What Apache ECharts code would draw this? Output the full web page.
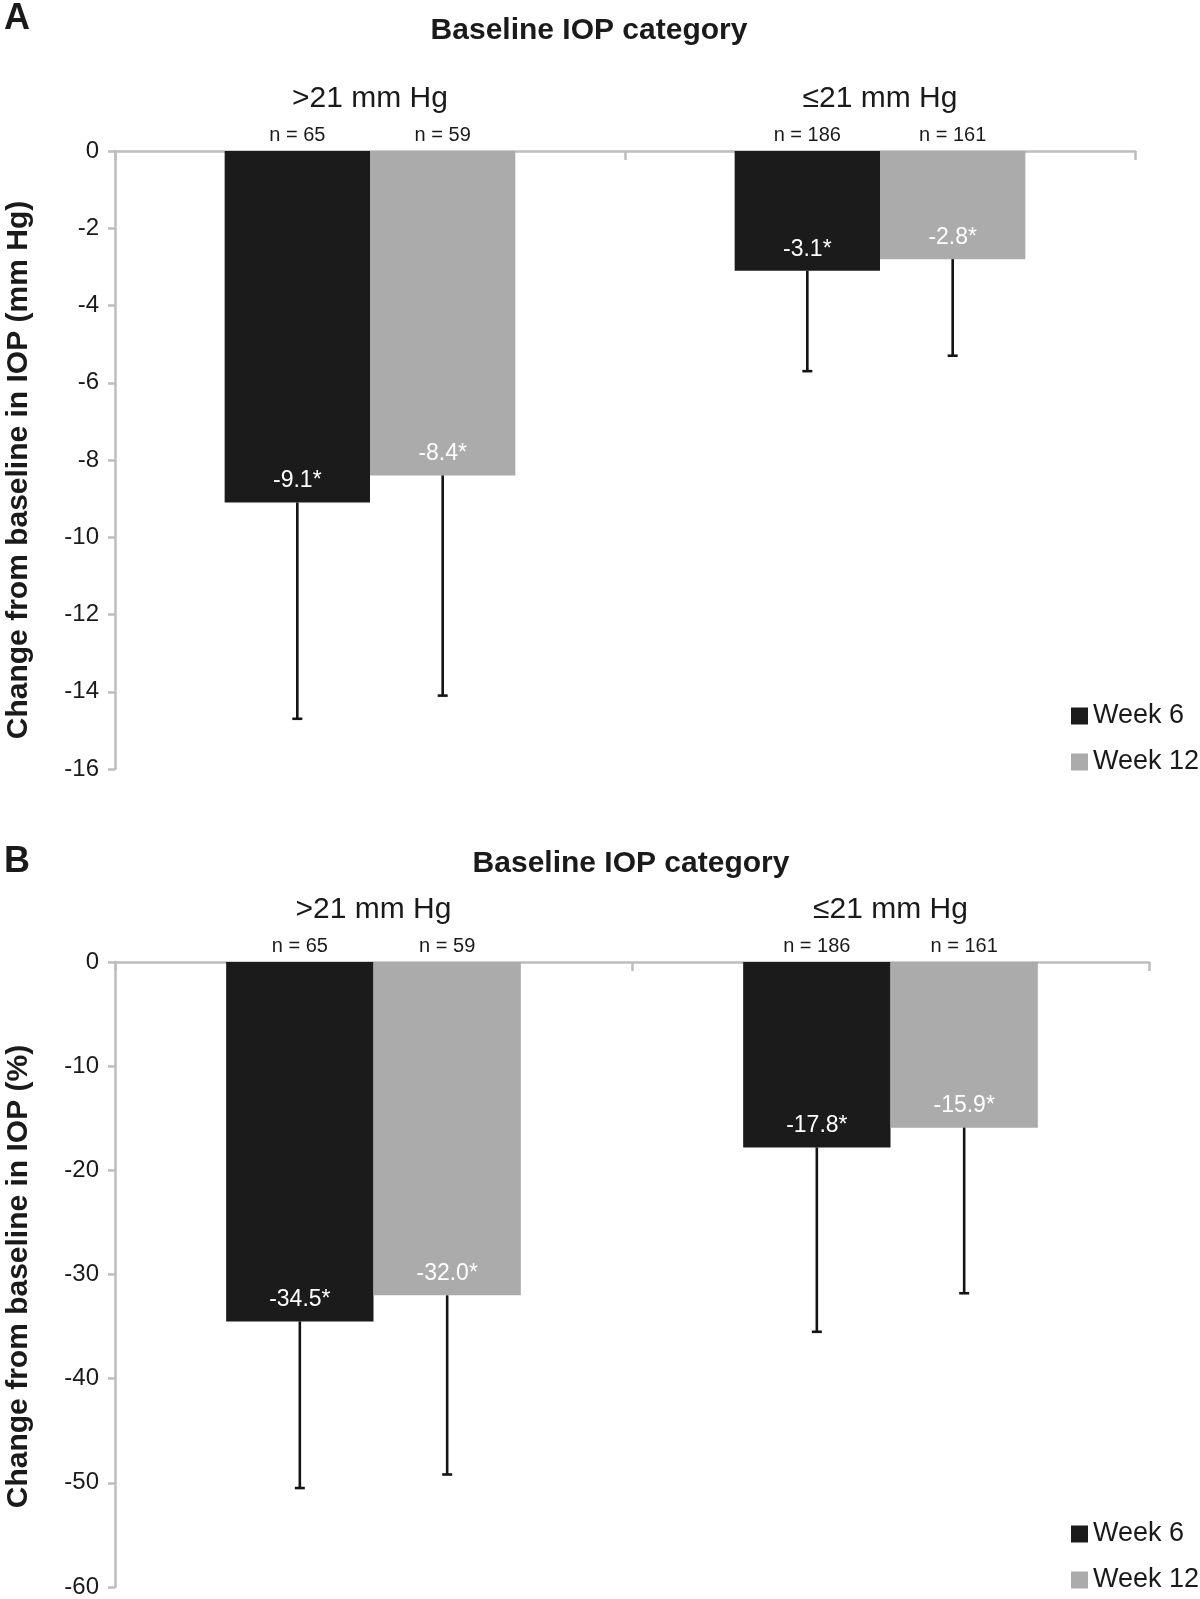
<!DOCTYPE html>
<html><head><meta charset="utf-8">
<script src="https://cdn.jsdelivr.net/npm/echarts@6/dist/echarts.min.js"></script>
<style>html,body{margin:0;padding:0;background:#fff}#c{width:1200px;height:1599px}</style>
</head><body><div id="c"></div>
<script>
// ---- data ----
const categories = ['>21 mm Hg', '≤21 mm Hg'];
const seriesNames = ['Week 6', 'Week 12'];
const nWeek6 = [65, 186];
const nWeek12 = [59, 161];
// Panel A: change in mm Hg (mean and lower end of error bar)
const mmHgWeek6 = [-9.1, -3.1];
const mmHgWeek12 = [-8.4, -2.8];
const mmHgWeek6Low = [-14.7, -5.7];
const mmHgWeek12Low = [-14.1, -5.3];
// Panel B: change in %
const pctWeek6 = [-34.5, -17.8];
const pctWeek12 = [-32.0, -15.9];
const pctWeek6Low = [-50.5, -35.5];
const pctWeek12Low = [-49.2, -31.8];
// axis ranges
const mmHgAxis = { min: -16, max: 0, interval: 2 };
const pctAxis = { min: -60, max: 0, interval: 10 };
const panelTitle = 'Baseline IOP category';
const yNameA = 'Change from baseline in IOP (mm Hg)';
const yNameB = 'Change from baseline in IOP (%)';

// ---- style ----
const FONT = '"Liberation Sans", Arial, Helvetica, sans-serif';
const C6 = '#1b1b1b', C12 = '#ababab', AX = '#bdbdbd', TXT = '#1a1a1a';
const BAR_FRAC = 0.285;

function errRender(side) {
  return function (params, api) {
    const cat = api.value(0), mean = api.value(1), low = api.value(2), n = api.value(3);
    const band = api.size([1, 0])[0];
    const bw = band * BAR_FRAC;
    const c0 = api.coord([cat, 0]);
    const x = c0[0] + side * bw / 2;
    const pm = api.coord([cat, mean]);
    const pl = api.coord([cat, low]);
    const cap = 5;
    return { type: 'group', children: [
      { type: 'line', shape: { x1: x, y1: pm[1], x2: x, y2: pl[1] }, style: { stroke: '#141414', lineWidth: 2.6 } },
      { type: 'line', shape: { x1: x - cap, y1: pl[1], x2: x + cap, y2: pl[1] }, style: { stroke: '#141414', lineWidth: 2.6 } },
      { type: 'text', x: x, y: c0[1] - 6, style: { text: 'n = ' + n, fontSize: 20, fontFamily: FONT, fill: TXT,
          align: 'center', verticalAlign: 'bottom', textAlign: 'center', textVerticalAlign: 'bottom' } }
    ] };
  };
}

function errData(means, lows, ns) {
  return means.map((m, i) => [i, m, lows[i], ns[i]]);
}

function barSeries(name, data, color, gi) {
  return {
    type: 'bar', name: name, xAxisIndex: gi, yAxisIndex: gi, data: data,
    barWidth: (BAR_FRAC * 100) + '%', barGap: '0%',
    itemStyle: { color: color },
    label: { show: true, position: 'insideBottom', distance: 10, color: '#ffffff', fontSize: 23, fontFamily: FONT,
      formatter: p => p.value.toFixed(1) + '*' },
    z: 2
  };
}

function xAx(gi) {
  return {
    type: 'category', gridIndex: gi, position: 'top', data: categories,
    axisLine: { show: true, lineStyle: { color: AX, width: 2.5 } },
    axisTick: { show: true, inside: true, length: 9, lineStyle: { color: AX, width: 2.5 } },
    axisLabel: { margin: 37, fontSize: 30, color: TXT, fontFamily: FONT },
    splitLine: { show: false }
  };
}

function yAx(gi, rng, name, pad) {
  return {
    type: 'value', gridIndex: gi, min: rng.min, max: rng.max, interval: rng.interval,
    axisLine: { show: true, lineStyle: { color: AX, width: 2.5 } },
    axisTick: { show: true, length: 7, lineStyle: { color: AX, width: 2.5 } },
    splitLine: { show: false },
    axisLabel: { fontSize: 24, color: TXT, fontFamily: FONT, margin: 16 },
    name: name, nameLocation: 'middle', nameGap: 81,
    nameTextStyle: { fontSize: 30, fontWeight: 'bold', color: TXT, fontFamily: FONT, padding: pad }
  };
}

function legendAt(top) {
  return {
    left: 1071, top: top, orient: 'vertical', icon: 'rect', itemWidth: 17, itemHeight: 17, itemGap: 16,
    padding: 0, data: seriesNames, selectedMode: false,
    textStyle: { fontSize: 27, color: TXT, fontFamily: FONT, lineHeight: 30 }
  };
}

function gtext(txt, x, y, size, bold, align) {
  return { type: 'text', x: x, y: y, silent: true, style: { text: txt, fontSize: size, fontWeight: bold ? 'bold' : 'normal',
    fontFamily: FONT, fill: TXT, align: align, verticalAlign: 'middle', textAlign: align, textVerticalAlign: 'middle' } };
}

const chart = echarts.init(document.getElementById('c'), null, { renderer: 'canvas' });
chart.setOption({
  animation: false,
  backgroundColor: '#ffffff',
  grid: [
    { left: 115, right: 65, top: 151, bottom: 830, containLabel: false, outerBoundsMode: 'none' },
    { left: 115, right: 51, top: 962, bottom: 12, containLabel: false, outerBoundsMode: 'none' }
  ],
  xAxis: [xAx(0), xAx(1)],
  yAxis: [yAx(0, mmHgAxis, yNameA, [0, 20, 0, 0]), yAx(1, pctAxis, yNameB, [0, 4, 0, 0])],
  legend: [legendAt(701), legendAt(1519)],
  graphic: [
    gtext('A', 4, 19, 36, true, 'left'),
    gtext(panelTitle, 589, 31, 30, true, 'center'),
    gtext('B', 4, 862, 36, true, 'left'),
    gtext(panelTitle, 631, 864, 30, true, 'center')
  ],
  series: [
    barSeries(seriesNames[0], mmHgWeek6, C6, 0),
    barSeries(seriesNames[1], mmHgWeek12, C12, 0),
    { type: 'custom', name: 'errA6', xAxisIndex: 0, yAxisIndex: 0, renderItem: errRender(-1),
      data: errData(mmHgWeek6, mmHgWeek6Low, nWeek6), encode: { x: 0, y: [1, 2] }, z: 5 },
    { type: 'custom', name: 'errA12', xAxisIndex: 0, yAxisIndex: 0, renderItem: errRender(1),
      data: errData(mmHgWeek12, mmHgWeek12Low, nWeek12), encode: { x: 0, y: [1, 2] }, z: 5 },
    barSeries(seriesNames[0], pctWeek6, C6, 1),
    barSeries(seriesNames[1], pctWeek12, C12, 1),
    { type: 'custom', name: 'errB6', xAxisIndex: 1, yAxisIndex: 1, renderItem: errRender(-1),
      data: errData(pctWeek6, pctWeek6Low, nWeek6), encode: { x: 0, y: [1, 2] }, z: 5 },
    { type: 'custom', name: 'errB12', xAxisIndex: 1, yAxisIndex: 1, renderItem: errRender(1),
      data: errData(pctWeek12, pctWeek12Low, nWeek12), encode: { x: 0, y: [1, 2] }, z: 5 }
  ]
});
</script>
</body></html>
